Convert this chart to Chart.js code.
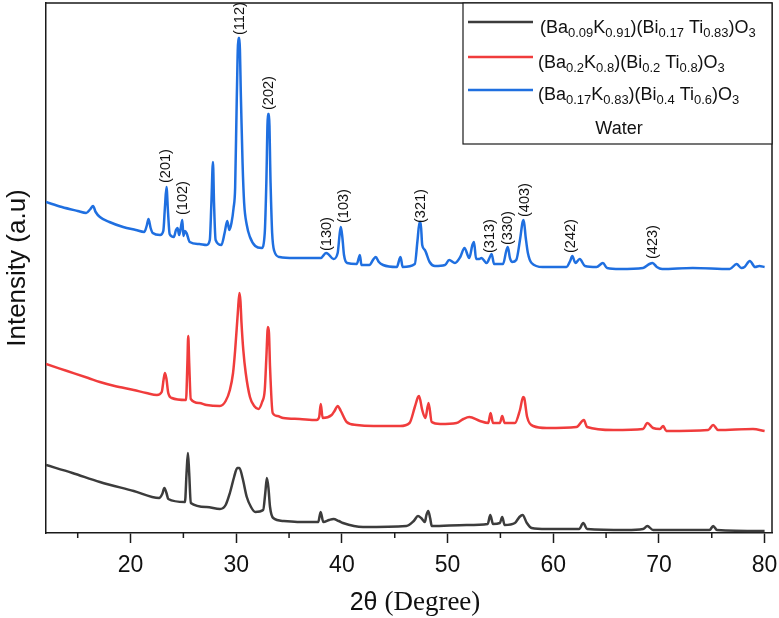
<!DOCTYPE html>
<html>
<head>
<meta charset="utf-8">
<script src="https://cdn.jsdelivr.net/npm/chart.js@4.4.1/dist/chart.umd.min.js"></script>
<style>
  html, body { margin: 0; padding: 0; background: #fff; }
  #wrap { width: 779px; height: 618px; }
</style>
</head>
<body>
<div id="wrap"><canvas id="xrd" width="779" height="618"></canvas></div>
<script>
// 2θ (deg), intensity (a.u., curves offset as in the figure)
const seriesBlack = [
  [12.0,68],[14.5,60],[17.1,51],[20.3,42],[22.7,35],[23.0,39],[23.2,45],[23.4,40],[23.57,34],
  [25.15,31],[25.3,60],[25.43,80],[25.55,60],[25.7,30],[27.2,26],[28.46,24],[29.0,28],[29.4,40],
  [29.8,56],[30.1,65],[30.3,65],[30.6,55],[31.0,36],[31.4,26],[31.8,21],[32.55,23],[32.75,40],
  [32.9,55],[33.05,45],[33.2,26],[33.5,15],[34.5,12],[36.0,11],[37.76,11],[37.99,21],[38.24,11],
  [38.8,13],[39.2,14],[39.7,12],[40.1,10],[42.0,6],[46.1,7],[46.8,12],[47.2,17],[47.5,15],
  [47.85,11],[48.0,18],[48.17,22],[48.35,15],[48.5,7],[51.8,8],[53.8,9],[54.04,18],[54.3,9],
  [54.95,10],[55.17,16],[55.4,8],[56.37,10],[56.8,16],[57.1,18],[57.5,10],[57.95,5],[59.37,4],
  [62.45,4],[62.84,10],[63.2,4],[66.9,3],[68.5,4],[68.9,7],[69.45,3],[74.8,3],[75.13,7],[75.5,3],
  [80.0,2]
];
const seriesRed = [
  [12.0,169],[14.0,162],[16.0,155],[17.1,151],[18.5,147],[20.3,143],[21.5,140],[22.5,138],
  [22.95,141],[23.15,155],[23.26,160],[23.4,154],[23.57,140],[23.9,135],[25.25,133],[25.38,170],
  [25.46,197],[25.55,170],[25.7,134],[26.5,130],[27.2,128],[28.46,127],[29.0,132],[29.4,143],
  [29.7,160],[29.9,183],[30.15,220],[30.3,240],[30.4,232],[30.5,210],[30.67,183],[30.9,160],
  [31.3,136],[31.7,127],[32.1,124],[32.45,131],[32.7,143],[32.85,175],[33.0,206],[33.1,200],
  [33.2,166],[33.45,120],[33.9,117],[34.45,115],[36.0,114],[37.6,113],[37.85,116],[38.0,129],
  [38.18,115],[39.03,118],[39.3,122],[39.6,127],[39.9,122],[40.45,111],[41.4,108],[43.0,107],
  [45.5,107],[46.4,110],[46.9,126],[47.2,136],[47.3,137],[47.6,123],[47.9,115],[48.2,130],
  [48.5,111],[49.3,109],[50.85,110],[51.5,114],[52.05,116],[53.06,112],[53.85,110],[54.07,120],
  [54.3,110],[54.95,110],[55.17,117],[55.4,110],[56.37,110],[56.85,123],[57.15,136],[57.25,135],
  [57.53,116],[58.1,107],[59.37,105],[62.2,106],[62.9,113],[63.2,106],[65.7,103],[68.5,104],
  [68.9,110],[69.45,105],[70.1,104],[70.4,107],[70.7,102],[74.66,103],[75.13,108],[75.6,103],
  [78.9,104],[80.0,102]
];
const seriesBlue = [
  [12.0,331],[13.5,326],[15.0,322],[15.8,320],[16.2,324],[16.45,327],[16.7,321],[17.1,316],
  [18.0,311],[19.3,306],[20.5,303],[21.3,301],[21.55,308],[21.7,314],[21.9,305],[22.1,300],
  [22.8,298],[23.1,302],[23.25,325],[23.4,346],[23.55,320],[23.7,299],[24.1,296],[24.3,303],
  [24.45,305],[24.6,298],[24.75,305],[24.9,313],[25.0,297],[25.15,302],[25.3,300],[25.6,291],
  [26.5,289],[27.2,288],[27.5,293],[27.65,330],[27.8,371],[27.9,330],[28.05,293],[28.6,288],
  [28.9,300],[29.15,312],[29.35,303],[29.55,310],[29.75,325],[29.9,346],[30.05,433],[30.2,495],
  [30.3,495],[30.45,433],[30.6,370],[30.75,330],[31.0,308],[31.3,296],[31.8,287],[32.4,285],
  [32.7,300],[32.85,350],[33.0,419],[33.1,419],[33.25,350],[33.4,300],[33.6,282],[34.1,276],
  [35.5,275],[37.0,275],[38.0,275],[38.5,280],[38.7,279],[39.2,274],[39.6,280],[39.8,300],
  [39.9,306],[40.05,295],[40.2,278],[40.5,270],[41.4,269],[41.6,275],[41.7,278],[41.85,268],
  [42.6,268],[43.0,274],[43.2,276],[43.5,271],[43.9,268],[45.2,266],[45.45,274],[45.55,276],
  [45.75,266],[46.9,269],[47.15,292],[47.35,311],[47.45,311],[47.6,288],[47.85,283],[48.3,271],
  [48.8,267],[49.75,268],[50.15,273],[50.7,270],[51.2,276],[51.6,285],[52.05,275],[52.35,288],
  [52.5,291],[52.7,274],[53.0,274],[53.2,275],[53.7,270],[54.05,277],[54.17,279],[54.4,269],
  [55.25,269],[55.55,282],[55.7,286],[55.9,275],[56.1,271],[56.5,273],[56.85,293],[57.1,311],
  [57.2,313],[57.4,295],[57.6,280],[57.95,270],[59.0,266],[61.25,266],[61.6,272],[61.8,277],
  [62.1,270],[62.5,274],[63.0,267],[64.1,266],[64.7,270],[65.1,265],[66.3,264],[68.5,265],
  [69.1,269],[69.4,270],[69.8,266],[70.3,264],[73.2,265],[76.7,264],[77.35,269],[77.8,265],
  [78.1,266],[78.6,272],[79.1,266],[79.5,267],[80.0,266]
];

// legend text pieces: [text, isSubscript]
const legendBlack = [['(Ba',0],['0.09',1],['K',0],['0.91',1],[')(Bi',0],['0.17',1],[' Ti',0],['0.83',1],[')O',0],['3',1]];
const legendRed   = [['(Ba',0],['0.2',1],['K',0],['0.8',1],[')(Bi',0],['0.2',1],[' Ti',0],['0.8',1],[')O',0],['3',1]];
const legendBlue  = [['(Ba',0],['0.17',1],['K',0],['0.83',1],[')(Bi',0],['0.4',1],[' Ti',0],['0.6',1],[')O',0],['3',1]];
const legendNote  = 'Water';

// hkl labels: text, 2θ, intensity at the label's lower end
const peakLabels = ['(201)','(102)','(112)','(202)','(130)','(103)','(321)','(313)','(330)','(403)','(242)','(423)'];
const peakAngles = [23.35, 24.93, 30.4, 33.13, 38.6, 40.2, 47.5, 54.0, 55.7, 57.3, 61.7, 69.4];
const peakLevels = [350, 318, 498, 423, 282, 310, 310, 280, 288, 316, 280, 274];

const majorTicks = [20, 30, 40, 50, 60, 70, 80];
const minorTicks = [15, 25, 35, 45, 55, 65, 75];

const SANS = '"Liberation Sans", Arial, sans-serif';
const SERIF = '"Liberation Serif", "Times New Roman", serif';
const AXIS = '#1a1a1a';

const toPts = arr => arr.map(p => ({ x: p[0], y: p[1] }));

const framePlugin = {
  id: 'frame',
  afterDraw(chart) {
    const { ctx, chartArea: a, scales } = chart;
    const xs = scales.x, ys = scales.y;
    ctx.save();
    ctx.strokeStyle = AXIS;
    ctx.lineWidth = 1.5;
    // top + right frame
    ctx.beginPath();
    ctx.moveTo(a.left, a.top);
    ctx.lineTo(a.right, a.top);
    ctx.lineTo(a.right, a.bottom);
    ctx.stroke();
    // minor ticks
    minorTicks.forEach(v => {
      const px = xs.getPixelForValue(v);
      ctx.beginPath();
      ctx.moveTo(px, a.bottom);
      ctx.lineTo(px, a.bottom + 5);
      ctx.stroke();
    });

    // peak labels
    ctx.fillStyle = '#111';
    ctx.font = '14.5px ' + SANS;
    ctx.textAlign = 'left';
    ctx.textBaseline = 'middle';
    peakLabels.forEach((t, i) => {
      ctx.save();
      ctx.translate(xs.getPixelForValue(peakAngles[i]), ys.getPixelForValue(peakLevels[i]));
      ctx.rotate(-Math.PI / 2);
      ctx.fillText(t, 0, 0);
      ctx.restore();
    });

    // legend box
    const bx = a.right - 309, by = a.top, bw = 309, bh = 141;
    ctx.fillStyle = '#fff';
    ctx.fillRect(bx, by, bw, bh);
    ctx.strokeStyle = AXIS;
    ctx.lineWidth = 1.2;
    ctx.strokeRect(bx, by, bw, bh);
    const rows = [legendBlack, legendRed, legendBlue];
    const lineY = [19, 54, 87];
    const baseY = [30, 65, 97];
    const textX = [77, 75, 75];
    rows.forEach((pieces, i) => {
      const ds = chart.data.datasets[i];
      ctx.strokeStyle = ds.borderColor;
      ctx.lineWidth = 2.5;
      ctx.beginPath();
      ctx.moveTo(bx + 5, by + lineY[i]);
      ctx.lineTo(bx + 70, by + lineY[i]);
      ctx.stroke();
      let x = bx + textX[i];
      ctx.fillStyle = '#111';
      ctx.textBaseline = 'alphabetic';
      pieces.forEach(([txt, sub]) => {
        ctx.font = (sub ? '13px ' : '18px ') + SANS;
        ctx.fillText(txt, x, by + baseY[i] + (sub ? 4 : 0));
        x += ctx.measureText(txt).width;
      });
    });
    ctx.font = '18px ' + SANS;
    ctx.textAlign = 'center';
    ctx.fillText(legendNote, bx + 156, by + 131);

    // x-axis title: "2θ" sans + "(Degree)" serif
    const part1 = '2θ ', part2 = '(Degree)';
    ctx.font = '25px ' + SANS;
    const w1 = ctx.measureText(part1).width;
    ctx.font = '27px ' + SERIF;
    const w2 = ctx.measureText(part2).width;
    const cx = (a.left + a.right) / 2 + 6;
    const sx = cx - (w1 + w2) / 2;
    ctx.textAlign = 'left';
    ctx.font = '25px ' + SANS;
    ctx.fillText(part1, sx, 610);
    ctx.font = '27px ' + SERIF;
    ctx.fillText(part2, sx + w1, 610);
    ctx.restore();
  }
};

new Chart(document.getElementById('xrd'), {
  type: 'line',
  data: {
    datasets: [
      { label: 'black', data: toPts(seriesBlack), borderColor: '#3c3c3c' },
      { label: 'red', data: toPts(seriesRed), borderColor: '#f03c3c' },
      { label: 'blue', data: toPts(seriesBlue), borderColor: '#1f6fe0' }
    ].map(d => Object.assign(d, {
      borderWidth: 2.5, pointRadius: 0, fill: false,
      cubicInterpolationMode: 'monotone', borderJoinStyle: 'round'
    }))
  },
  options: {
    responsive: false,
    animation: false,
    layout: { padding: { top: 3, right: 7, left: 0, bottom: 0 } },
    plugins: { legend: { display: false }, tooltip: { enabled: false } },
    scales: {
      x: {
        type: 'linear',
        min: 12,
        max: 80.7,
        afterBuildTicks: s => { s.ticks = majorTicks.map(v => ({ value: v })); },
        afterFit: s => { s.height = 85; s.paddingLeft = 0; s.paddingRight = 0; },
        grid: { display: true, drawOnChartArea: false, tickLength: 10, tickColor: AXIS, tickWidth: 1.5 },
        border: { display: true, color: AXIS, width: 1.5 },
        ticks: { font: { family: SANS, size: 23 }, color: '#111', padding: 9, maxRotation: 0 }
      },
      y: {
        min: 0,
        max: 530,
        afterFit: s => { s.width = 46; s.paddingTop = 0; s.paddingBottom = 0; },
        grid: { display: false },
        border: { display: true, color: AXIS, width: 1.5 },
        ticks: { display: false },
        title: {
          display: true,
          text: 'Intensity (a.u)',
          font: { family: SANS, size: 26 },
          color: '#111',
          padding: { top: 2, bottom: 0 }
        }
      }
    }
  },
  plugins: [framePlugin]
});
</script>
</body>
</html>
